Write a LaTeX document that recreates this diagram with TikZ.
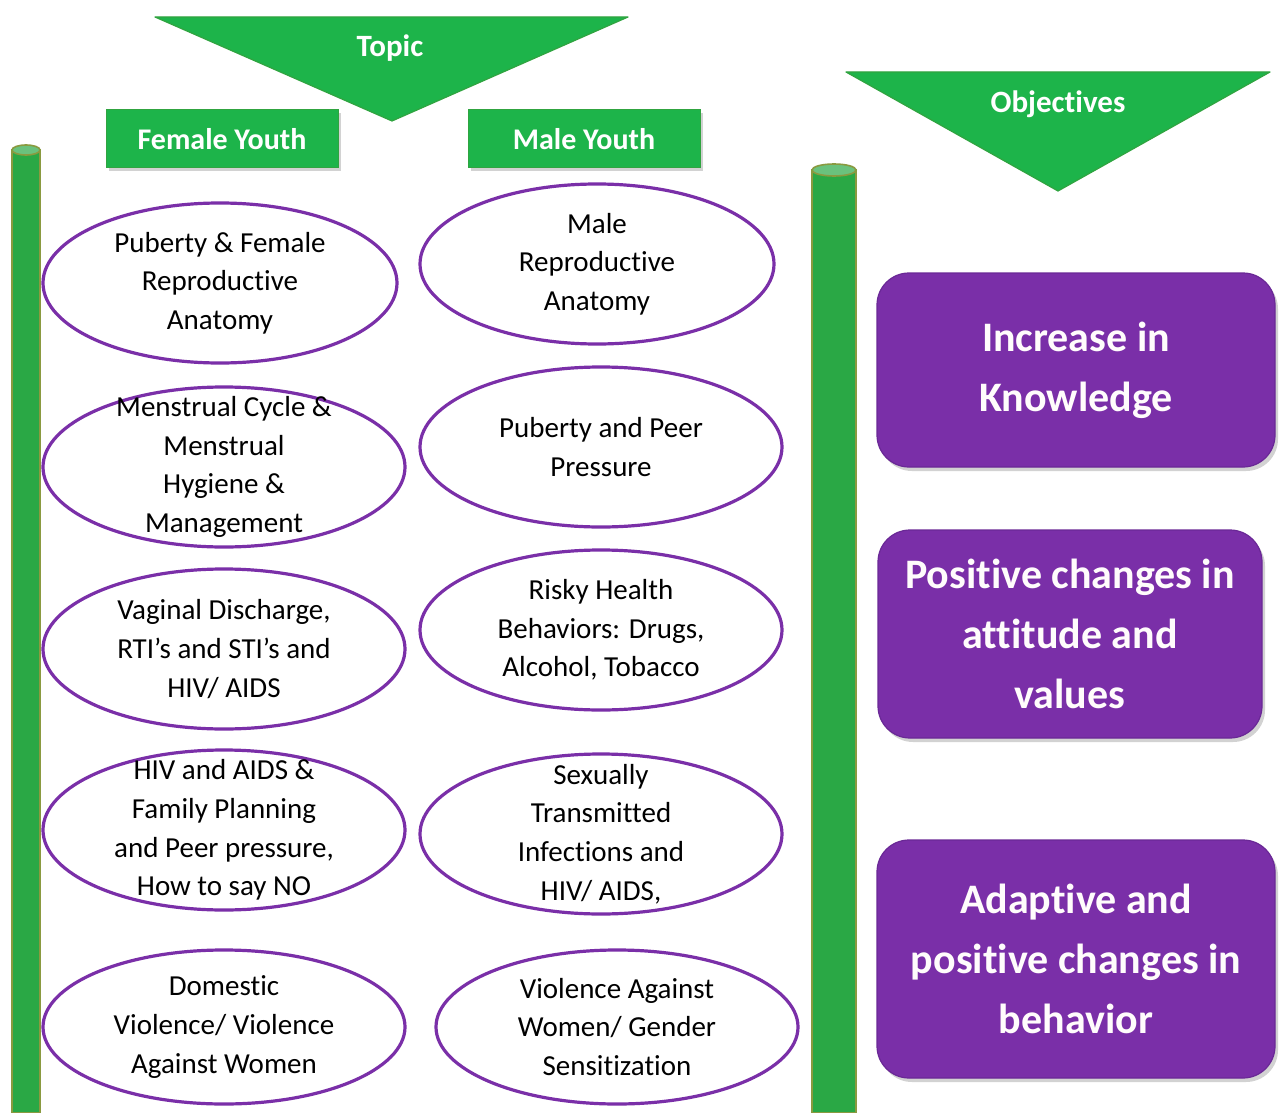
\documentclass[tikz,border=0pt]{standalone}
\usepackage{fontspec}
\setmainfont{Carlito}[Ligatures=NoCommon]
\usepackage{tikz}
\usetikzlibrary{positioning,shapes.geometric,shadows}
\definecolor{leaf}{HTML}{1DB44A}
\definecolor{leafedge}{HTML}{3C9A3A}
\definecolor{stem}{HTML}{2AA845}
\definecolor{stemedge}{HTML}{8A9A40}
\definecolor{grape}{HTML}{7A2FA8}
\definecolor{grapeedge}{HTML}{6A2896}
\tikzstyle{banner}=[fill=leaf, draw=leafedge!60!leaf, line width=0.6pt, line join=round]
\tikzstyle{bannertext}=[text=white, font=\bfseries\fontsize{15.5}{18}\selectfont]
\tikzstyle{pillar}=[fill=stem, draw=stemedge, line width=0.8pt]
\tikzstyle{pillarcap}=[fill=stem!70!white, draw=stemedge, line width=0.8pt]
\tikzstyle{header}=[rectangle, fill=leaf, draw=leafedge!60!leaf, line width=0.5pt,
    minimum width=116pt, minimum height=29pt, inner sep=0pt,
    text=white, font=\bfseries\fontsize{15}{18}\selectfont,
    drop shadow={opacity=0.35, shadow xshift=1.5pt, shadow yshift=-1.5pt}]
\tikzstyle{topicnode}=[ellipse, draw=grape, line width=1.6pt, fill=white,
    inner sep=0pt, minimum width=181pt, minimum height=80pt]
\tikzstyle{topictext}=[align=center, text=black, inner sep=0pt,
    font=\fontsize{14.5}{19.3}\selectfont]
\tikzstyle{objective}=[rectangle, rounded corners=16pt, fill=grape, draw=grapeedge,
    line width=0.6pt, inner sep=0pt, align=center, text=white!96!pink,
    font=\bfseries\fontsize{21}{30}\selectfont,
    drop shadow={opacity=0.35, shadow xshift=1.5pt, shadow yshift=-2pt}]

\begin{document}
\begin{tikzpicture}[x=0.5pt, y=-0.5pt]
    \useasboundingbox[fill=white] (0,0) rectangle (1280,1113);

    % pillars
    \draw[pillar] (12,150) rectangle (40,1113);
    \draw[pillarcap] (26,150) ellipse [x radius=7pt, y radius=2.5pt];
    \draw[pillar] (812,170) rectangle (856,1113);
    \draw[pillarcap] (834,170) ellipse [x radius=11pt, y radius=3pt];

    % banners
    \draw[banner] (155,17) -- (628,17) -- (392,121) -- cycle;
    \node[bannertext] (topic) at (390,48) {Topic};
    \draw[banner] (846,72) -- (1270,72) -- (1058,191) -- cycle;
    \node[bannertext] (objectives) at (1058,104) {Objectives};

    % column headers
    \node[header] (female) at (222,139) {Female Youth};
    \node[header] (male) at (584,139) {Male Youth};

    % female topics
    \node[topicnode, minimum width=177pt, label={[topictext]center:{Puberty \& Female\\Reproductive\\Anatomy}}]
        (f1) at (220,283) {};
    \node[topicnode, label={[topictext]center:{Menstrual Cycle \&\\Menstrual\\Hygiene \&\\Management}}]
        (f2) at (224,467) {};
    \node[topicnode, label={[topictext]center:{Vaginal Discharge,\\RTI’s and STI’s and\\HIV/ AIDS}}]
        (f3) at (224,649) {};
    \node[topicnode, label={[topictext]center:{HIV and AIDS \&\\Family Planning\\and Peer pressure,\\How to say NO}}]
        (f4) at (224,830) {};
    \node[topicnode, minimum height=77pt, label={[topictext]center:{Domestic\\Violence/ Violence\\Against Women}}]
        (f5) at (224,1027) {};

    % male topics
    \node[topicnode, minimum width=177pt, label={[topictext]center:{Male\\Reproductive\\Anatomy}}]
        (m1) at (597,264) {};
    \node[topicnode, label={[topictext]center:{Puberty and Peer\\Pressure}}]
        (m2) at (601,447) {};
    \node[topicnode, label={[topictext]center:{Risky Health\\Behaviors: Drugs,\\Alcohol, Tobacco}}]
        (m3) at (601,630) {};
    \node[topicnode, label={[topictext]center:{Sexually\\Transmitted\\Infections and\\HIV/ AIDS,}}]
        (m4) at (601,834) {};
    \node[topicnode, minimum height=77pt, label={[topictext]center:{Violence Against\\Women/ Gender\\Sensitization}}]
        (m5) at (617,1027) {};

    % objectives
    \node[objective, minimum width=199pt, minimum height=97pt] (o1) at (1076,370) {Increase in\\Knowledge};
    \node[objective, minimum width=192pt, minimum height=104pt] (o2) at (1070,634) {Positive changes in\\attitude and\\values};
    \node[objective, minimum width=199pt, minimum height=119pt] (o3) at (1076,959) {Adaptive and\\positive changes in\\behavior};

\end{tikzpicture}
\end{document}
